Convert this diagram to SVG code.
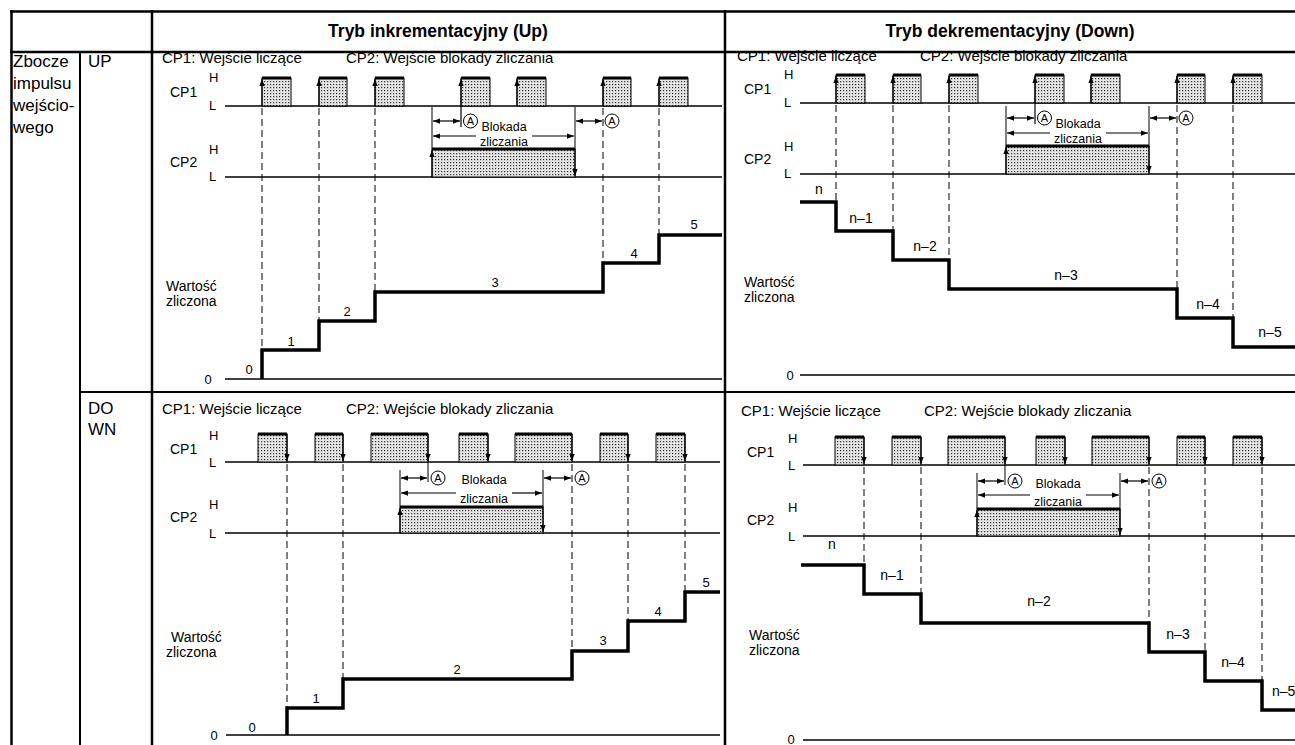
<svg xmlns="http://www.w3.org/2000/svg" width="1295" height="745" viewBox="0 0 1295 745">
<defs>
<pattern id="dots" width="3" height="3" patternUnits="userSpaceOnUse">
<rect width="3" height="3" fill="#e4e4e4"/>
<rect x="0" y="0" width="1.2" height="1.2" fill="#333"/>
</pattern>
<marker id="ah" viewBox="0 0 8 6" refX="8" refY="3" markerWidth="7" markerHeight="6" markerUnits="userSpaceOnUse" orient="auto-start-reverse">
<path d="M0,0 L8,3 L0,6 z" fill="#000"/>
</marker>
</defs>
<style>
.t{font-family:"Liberation Sans",Arial,sans-serif;fill:#000}
.s17{font-size:17px}.s15{font-size:15px}.s14{font-size:14px}.s13{font-size:13px}.s12{font-size:12.5px}.s11{font-size:11px}
.hd{font-size:17.5px;font-weight:bold}
.m{text-anchor:middle}
.grid{stroke:#000;stroke-width:2.5;fill:none}
.grid2{stroke:#000;stroke-width:2;fill:none}
.ln{stroke:#000;stroke-width:1.6;fill:none}
.thin{stroke:#000;stroke-width:1;fill:none}
.dash{stroke:#000;stroke-width:1;stroke-dasharray:7 4;fill:none}
.stair{stroke:#000;stroke-width:3.5;fill:none}
.pulse{fill:url(#dots);stroke:#000;stroke-width:1}
.ptop{stroke:#000;stroke-width:3}
.arr{stroke:#000;stroke-width:1.2;marker-end:url(#ah)}
.darr{stroke:#000;stroke-width:1.2;marker-start:url(#ah);marker-end:url(#ah)}
.circ{fill:#fff;stroke:#000;stroke-width:1}
</style>
<rect width="1295" height="745" fill="#fff"/>

<g id="table">
<line class="grid" x1="10" y1="11.5" x2="1295" y2="11.5"/>
<line class="grid" x1="11.5" y1="10" x2="11.5" y2="745"/>
<line class="grid" x1="10" y1="52" x2="1295" y2="52"/>
<line class="grid2" x1="80" y1="52" x2="80" y2="745"/>
<line class="grid" x1="152" y1="10" x2="152" y2="745"/>
<line class="grid" x1="725" y1="10" x2="725" y2="745"/>
<line class="grid2" x1="80" y1="392" x2="1295" y2="392"/>
</g>

<g id="header">
<text class="t hd m" x="438" y="37">Tryb inkrementacyjny (Up)</text>
<text class="t hd m" x="1010" y="37">Tryb dekrementacyjny (Down)</text>
</g>

<g id="row-labels">
<text class="t s17" x="13" y="67">Zbocze</text>
<text class="t s17" x="13" y="89">impulsu</text>
<text class="t s17" x="13" y="111">wejścio-</text>
<text class="t s17" x="13" y="133">wego</text>
<text class="t s17" x="88" y="67">UP</text>
<text class="t s17" x="88" y="414">DO</text>
<text class="t s17" x="88" y="435">WN</text>
</g>

<g id="connectors">
<line class="dash" x1="262" y1="108" x2="262" y2="350"/>
<line class="dash" x1="319" y1="108" x2="319" y2="321"/>
<line class="dash" x1="375" y1="108" x2="375" y2="292"/>
<line class="dash" x1="603" y1="108" x2="603" y2="263"/>
<line class="dash" x1="659" y1="108" x2="659" y2="235"/>

<line class="dash" x1="836" y1="105" x2="836" y2="202"/>
<line class="dash" x1="893" y1="105" x2="893" y2="231"/>
<line class="dash" x1="949" y1="105" x2="949" y2="260"/>
<line class="dash" x1="1177" y1="105" x2="1177" y2="289"/>
<line class="dash" x1="1233" y1="105" x2="1233" y2="318"/>

<line class="dash" x1="287" y1="464" x2="287" y2="708"/>
<line class="dash" x1="343" y1="464" x2="343" y2="679"/>
<line class="dash" x1="572" y1="464" x2="572" y2="651"/>
<line class="dash" x1="628" y1="464" x2="628" y2="621"/>
<line class="dash" x1="685" y1="464" x2="685" y2="592"/>

<line class="dash" x1="864" y1="467" x2="864" y2="565"/>
<line class="dash" x1="921" y1="467" x2="921" y2="594"/>
<line class="dash" x1="1149" y1="467" x2="1149" y2="623"/>
<line class="dash" x1="1205" y1="467" x2="1205" y2="652"/>
<line class="dash" x1="1262" y1="467" x2="1262" y2="681"/>
</g>

<!-- UP edge, increment mode -->
<g id="panel-up-inc">
<text class="t s15" x="162" y="63">CP1: Wejście liczące</text>
<text class="t s15" x="346" y="63">CP2: Wejście blokady zliczania</text>
<text class="t s13" x="209" y="82">H</text>
<text class="t s14" x="170" y="97">CP1</text>
<text class="t s13" x="209" y="110">L</text>
<text class="t s13" x="209" y="154">H</text>
<text class="t s14" x="170" y="167">CP2</text>
<text class="t s13" x="209" y="181">L</text>
<line class="ln" x1="225" y1="106" x2="722" y2="106"/>
<line class="ln" x1="225" y1="177" x2="722" y2="177"/>
<rect class="pulse" x="262" y="78" width="29" height="28"/>
<rect class="pulse" x="319" y="78" width="28" height="28"/>
<rect class="pulse" x="375" y="78" width="29" height="28"/>
<rect class="pulse" x="461" y="78" width="29" height="28"/>
<rect class="pulse" x="517" y="78" width="29" height="28"/>
<rect class="pulse" x="603" y="78" width="28" height="28"/>
<rect class="pulse" x="659" y="78" width="29" height="28"/>
<line class="ptop" x1="262" y1="78" x2="291" y2="78"/>
<line class="ptop" x1="319" y1="78" x2="347" y2="78"/>
<line class="ptop" x1="375" y1="78" x2="404" y2="78"/>
<line class="ptop" x1="461" y1="78" x2="490" y2="78"/>
<line class="ptop" x1="517" y1="78" x2="546" y2="78"/>
<line class="ptop" x1="603" y1="78" x2="631" y2="78"/>
<line class="ptop" x1="659" y1="78" x2="688" y2="78"/>
<line class="arr" x1="262" y1="106" x2="262" y2="79"/>
<line class="arr" x1="319" y1="106" x2="319" y2="79"/>
<line class="arr" x1="375" y1="106" x2="375" y2="79"/>
<line class="arr" x1="461" y1="127" x2="461" y2="79"/>
<line class="arr" x1="517" y1="106" x2="517" y2="79"/>
<line class="arr" x1="603" y1="106" x2="603" y2="79"/>
<line class="arr" x1="659" y1="106" x2="659" y2="79"/>
<rect class="pulse" x="432" y="149" width="143" height="28"/>
<line class="ptop" x1="432" y1="149" x2="575" y2="149"/>
<line class="arr" x1="432" y1="177" x2="432" y2="150"/>
<line class="arr" x1="575" y1="149" x2="575" y2="176"/>
<line class="thin" x1="432" y1="107" x2="432" y2="149"/>
<line class="thin" x1="575" y1="107" x2="575" y2="149"/>
<line class="darr" x1="433" y1="121" x2="460" y2="121"/>
<circle class="circ" cx="470.5" cy="121" r="7"/>
<text class="t s11 m" x="470.5" y="125">A</text>
<line class="darr" x1="576" y1="121" x2="602" y2="121"/>
<circle class="circ" cx="612" cy="121" r="7"/>
<text class="t s11 m" x="612" y="125">A</text>
<text class="t s12 m" x="504" y="131">Blokada</text>
<line class="arr" x1="476" y1="136" x2="433" y2="136"/>
<line class="arr" x1="532" y1="136" x2="574" y2="136"/>
<text class="t s12 m" x="504" y="146">zliczania</text>
<line class="ln" x1="225" y1="379" x2="722" y2="379"/>
<path class="stair" d="M262,379 V350 H319 V321 H375 V292 H603 V263 H659 V235 H722"/>
<text class="t s13 m" x="208" y="384">0</text>
<text class="t s13 m" x="249" y="374">0</text>
<text class="t s13 m" x="291" y="346">1</text>
<text class="t s13 m" x="347" y="316">2</text>
<text class="t s13 m" x="495" y="287">3</text>
<text class="t s13 m" x="634" y="258">4</text>
<text class="t s13 m" x="694" y="229">5</text>
<text class="t s14" x="166" y="291">Wartość</text>
<text class="t s14" x="166" y="306">zliczona</text>
</g>

<!-- UP edge, decrement mode -->
<g id="panel-up-dec">
<text class="t s15" x="737" y="61">CP1: Wejście liczące</text>
<text class="t s15" x="920" y="61">CP2: Wejście blokady zliczania</text>
<text class="t s13" x="784" y="79">H</text>
<text class="t s14" x="744" y="94">CP1</text>
<text class="t s13" x="784" y="107">L</text>
<text class="t s13" x="784" y="151">H</text>
<text class="t s14" x="744" y="164">CP2</text>
<text class="t s13" x="784" y="178">L</text>
<line class="ln" x1="800" y1="103" x2="1295" y2="103"/>
<line class="ln" x1="800" y1="174" x2="1295" y2="174"/>
<rect class="pulse" x="836" y="75" width="29" height="28"/>
<rect class="pulse" x="893" y="75" width="28" height="28"/>
<rect class="pulse" x="949" y="75" width="29" height="28"/>
<rect class="pulse" x="1035" y="75" width="29" height="28"/>
<rect class="pulse" x="1091" y="75" width="29" height="28"/>
<rect class="pulse" x="1177" y="75" width="28" height="28"/>
<rect class="pulse" x="1233" y="75" width="29" height="28"/>
<line class="ptop" x1="836" y1="75" x2="865" y2="75"/>
<line class="ptop" x1="893" y1="75" x2="921" y2="75"/>
<line class="ptop" x1="949" y1="75" x2="978" y2="75"/>
<line class="ptop" x1="1035" y1="75" x2="1064" y2="75"/>
<line class="ptop" x1="1091" y1="75" x2="1120" y2="75"/>
<line class="ptop" x1="1177" y1="75" x2="1205" y2="75"/>
<line class="ptop" x1="1233" y1="75" x2="1262" y2="75"/>
<line class="arr" x1="836" y1="103" x2="836" y2="76"/>
<line class="arr" x1="893" y1="103" x2="893" y2="76"/>
<line class="arr" x1="949" y1="103" x2="949" y2="76"/>
<line class="arr" x1="1035" y1="124" x2="1035" y2="76"/>
<line class="arr" x1="1091" y1="103" x2="1091" y2="76"/>
<line class="arr" x1="1177" y1="103" x2="1177" y2="76"/>
<line class="arr" x1="1233" y1="103" x2="1233" y2="76"/>
<rect class="pulse" x="1006" y="146" width="143" height="28"/>
<line class="ptop" x1="1006" y1="146" x2="1149" y2="146"/>
<line class="arr" x1="1006" y1="174" x2="1006" y2="147"/>
<line class="arr" x1="1149" y1="146" x2="1149" y2="173"/>
<line class="thin" x1="1006" y1="106" x2="1006" y2="146"/>
<line class="thin" x1="1149" y1="106" x2="1149" y2="146"/>
<line class="darr" x1="1007" y1="118" x2="1034" y2="118"/>
<circle class="circ" cx="1044.5" cy="118" r="7"/>
<text class="t s11 m" x="1044.5" y="122">A</text>
<line class="darr" x1="1150" y1="118" x2="1176" y2="118"/>
<circle class="circ" cx="1186" cy="118" r="7"/>
<text class="t s11 m" x="1186" y="122">A</text>
<text class="t s12 m" x="1078" y="128">Blokada</text>
<line class="arr" x1="1050" y1="133" x2="1007" y2="133"/>
<line class="arr" x1="1106" y1="133" x2="1148" y2="133"/>
<text class="t s12 m" x="1078" y="143">zliczania</text>
<line class="ln" x1="800" y1="375" x2="1295" y2="375"/>
<path class="stair" d="M800,202 H836 V231 H893 V260 H949 V289 H1177 V318 H1233 V347 H1295"/>
<text class="t s13 m" x="790" y="380">0</text>
<text class="t s14 m" x="819" y="194">n</text>
<text class="t s14 m" x="861" y="223">n–1</text>
<text class="t s14 m" x="925" y="251">n–2</text>
<text class="t s14 m" x="1066" y="280">n–3</text>
<text class="t s14 m" x="1208" y="309">n–4</text>
<text class="t s14 m" x="1270" y="337">n–5</text>
<text class="t s14" x="744" y="287">Wartość</text>
<text class="t s14" x="744" y="302">zliczona</text>
</g>

<!-- DOWN edge, increment mode -->
<g id="panel-down-inc">
<text class="t s15" x="162" y="414">CP1: Wejście liczące</text>
<text class="t s15" x="346" y="414">CP2: Wejście blokady zliczania</text>
<text class="t s13" x="209" y="440">H</text>
<text class="t s14" x="170" y="454">CP1</text>
<text class="t s13" x="209" y="467">L</text>
<text class="t s13" x="209" y="509">H</text>
<text class="t s14" x="170" y="522">CP2</text>
<text class="t s13" x="209" y="538">L</text>
<line class="ln" x1="225" y1="462" x2="720" y2="462"/>
<line class="ln" x1="225" y1="533" x2="720" y2="533"/>
<rect class="pulse" x="258" y="434" width="29" height="28"/>
<rect class="pulse" x="315" y="434" width="28" height="28"/>
<rect class="pulse" x="371" y="434" width="57" height="28"/>
<rect class="pulse" x="459" y="434" width="29" height="28"/>
<rect class="pulse" x="515" y="434" width="57" height="28"/>
<rect class="pulse" x="600" y="434" width="28" height="28"/>
<rect class="pulse" x="656" y="434" width="29" height="28"/>
<line class="ptop" x1="258" y1="434" x2="287" y2="434"/>
<line class="ptop" x1="315" y1="434" x2="343" y2="434"/>
<line class="ptop" x1="371" y1="434" x2="428" y2="434"/>
<line class="ptop" x1="459" y1="434" x2="488" y2="434"/>
<line class="ptop" x1="515" y1="434" x2="572" y2="434"/>
<line class="ptop" x1="600" y1="434" x2="628" y2="434"/>
<line class="ptop" x1="656" y1="434" x2="685" y2="434"/>
<line class="arr" x1="287" y1="434" x2="287" y2="461"/>
<line class="arr" x1="343" y1="434" x2="343" y2="461"/>
<line class="arr" x1="428" y1="434" x2="428" y2="461"/>
<line class="thin" x1="428" y1="462" x2="428" y2="482"/>
<line class="arr" x1="488" y1="434" x2="488" y2="461"/>
<line class="arr" x1="572" y1="434" x2="572" y2="461"/>
<line class="arr" x1="628" y1="434" x2="628" y2="461"/>
<line class="arr" x1="685" y1="434" x2="685" y2="461"/>
<rect class="pulse" x="400" y="507" width="143" height="26"/>
<line class="ptop" x1="400" y1="507" x2="543" y2="507"/>
<line class="arr" x1="400" y1="533" x2="400" y2="508"/>
<line class="arr" x1="543" y1="507" x2="543" y2="532"/>
<line class="thin" x1="400" y1="470" x2="400" y2="507"/>
<line class="thin" x1="543" y1="470" x2="543" y2="507"/>
<line class="darr" x1="401" y1="478" x2="427" y2="478"/>
<circle class="circ" cx="438" cy="478" r="7"/>
<text class="t s11 m" x="438" y="482">A</text>
<line class="darr" x1="544" y1="478" x2="571" y2="478"/>
<circle class="circ" cx="582" cy="478" r="7"/>
<text class="t s11 m" x="582" y="482">A</text>
<text class="t s12 m" x="484" y="484">Blokada</text>
<line class="arr" x1="456" y1="493" x2="401" y2="493"/>
<line class="arr" x1="512" y1="493" x2="542" y2="493"/>
<text class="t s12 m" x="484" y="503">zliczania</text>
<line class="ln" x1="226" y1="735" x2="720" y2="735"/>
<path class="stair" d="M287,735 V708 H343 V679 H572 V651 H628 V621 H685 V592 H720"/>
<text class="t s13 m" x="214" y="740">0</text>
<text class="t s13 m" x="252" y="732">0</text>
<text class="t s13 m" x="316" y="703">1</text>
<text class="t s13 m" x="457" y="674">2</text>
<text class="t s13 m" x="603" y="645">3</text>
<text class="t s13 m" x="658" y="616">4</text>
<text class="t s13 m" x="706" y="587">5</text>
<text class="t s14" x="171" y="642">Wartość</text>
<text class="t s14" x="166" y="657">zliczona</text>
</g>

<!-- DOWN edge, decrement mode -->
<g id="panel-down-dec">
<text class="t s15" x="741" y="416">CP1: Wejście liczące</text>
<text class="t s15" x="924" y="416">CP2: Wejście blokady zliczania</text>
<text class="t s13" x="788" y="443">H</text>
<text class="t s14" x="747" y="457">CP1</text>
<text class="t s13" x="788" y="470">L</text>
<text class="t s13" x="788" y="512">H</text>
<text class="t s14" x="747" y="525">CP2</text>
<text class="t s13" x="788" y="541">L</text>
<line class="ln" x1="803" y1="465" x2="1295" y2="465"/>
<line class="ln" x1="803" y1="536" x2="1295" y2="536"/>
<rect class="pulse" x="835" y="437" width="29" height="28"/>
<rect class="pulse" x="892" y="437" width="29" height="28"/>
<rect class="pulse" x="948" y="437" width="57" height="28"/>
<rect class="pulse" x="1036" y="437" width="29" height="28"/>
<rect class="pulse" x="1092" y="437" width="57" height="28"/>
<rect class="pulse" x="1177" y="437" width="28" height="28"/>
<rect class="pulse" x="1233" y="437" width="29" height="28"/>
<line class="ptop" x1="835" y1="437" x2="864" y2="437"/>
<line class="ptop" x1="892" y1="437" x2="921" y2="437"/>
<line class="ptop" x1="948" y1="437" x2="1005" y2="437"/>
<line class="ptop" x1="1036" y1="437" x2="1065" y2="437"/>
<line class="ptop" x1="1092" y1="437" x2="1149" y2="437"/>
<line class="ptop" x1="1177" y1="437" x2="1205" y2="437"/>
<line class="ptop" x1="1233" y1="437" x2="1262" y2="437"/>
<line class="arr" x1="864" y1="437" x2="864" y2="464"/>
<line class="arr" x1="921" y1="437" x2="921" y2="464"/>
<line class="arr" x1="1005" y1="437" x2="1005" y2="464"/>
<line class="thin" x1="1005" y1="465" x2="1005" y2="485"/>
<line class="arr" x1="1065" y1="437" x2="1065" y2="464"/>
<line class="arr" x1="1149" y1="437" x2="1149" y2="464"/>
<line class="arr" x1="1205" y1="437" x2="1205" y2="464"/>
<line class="arr" x1="1262" y1="437" x2="1262" y2="464"/>
<rect class="pulse" x="977" y="509" width="143" height="27"/>
<line class="ptop" x1="977" y1="509" x2="1120" y2="509"/>
<line class="arr" x1="977" y1="536" x2="977" y2="510"/>
<line class="arr" x1="1120" y1="509" x2="1120" y2="535"/>
<line class="thin" x1="977" y1="473" x2="977" y2="509"/>
<line class="thin" x1="1120" y1="473" x2="1120" y2="509"/>
<line class="darr" x1="978" y1="481" x2="1004" y2="481"/>
<circle class="circ" cx="1015" cy="481" r="7"/>
<text class="t s11 m" x="1015" y="485">A</text>
<line class="darr" x1="1121" y1="481" x2="1148" y2="481"/>
<circle class="circ" cx="1159" cy="481" r="7"/>
<text class="t s11 m" x="1159" y="485">A</text>
<text class="t s12 m" x="1058" y="488">Blokada</text>
<line class="arr" x1="1030" y1="495" x2="978" y2="495"/>
<line class="arr" x1="1086" y1="495" x2="1119" y2="495"/>
<text class="t s12 m" x="1058" y="506">zliczania</text>
<line class="ln" x1="803" y1="740" x2="1295" y2="740"/>
<path class="stair" d="M801,565 H864 V594 H921 V623 H1149 V652 H1205 V681 H1262 V710 H1295"/>
<text class="t s13 m" x="791" y="744">0</text>
<text class="t s14 m" x="832" y="549">n</text>
<text class="t s14 m" x="892" y="580">n–1</text>
<text class="t s14 m" x="1039" y="606">n–2</text>
<text class="t s14 m" x="1178" y="639">n–3</text>
<text class="t s14 m" x="1233" y="667">n–4</text>
<text class="t s14" x="1272" y="696">n–5</text>
<text class="t s14" x="749" y="640">Wartość</text>
<text class="t s14" x="749" y="655">zliczona</text>
</g>
</svg>
